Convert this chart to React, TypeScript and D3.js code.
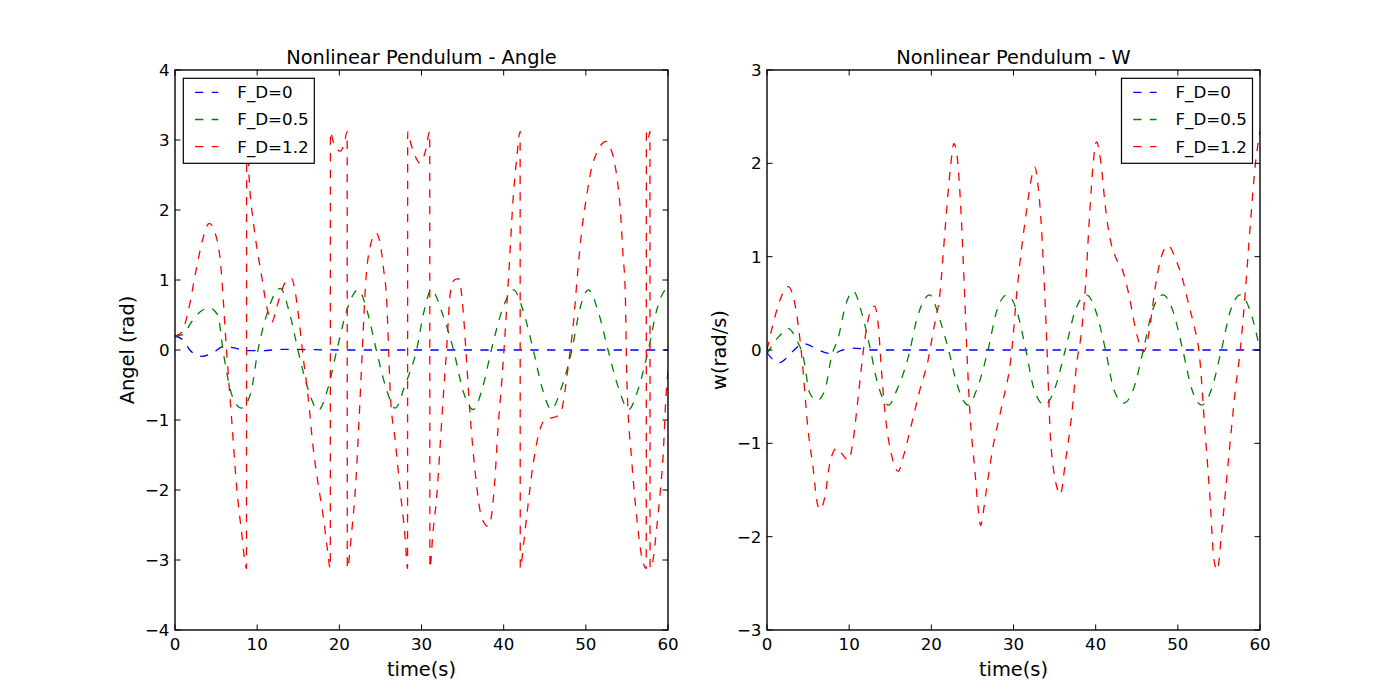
import React from "react";
import * as d3 from "d3";

// ---------- data ----------
const timeTicks = [0, 10, 20, 30, 40, 50, 60];
const angleTicks = [-4, -3, -2, -1, 0, 1, 2, 3, 4];
const wTicks = [-3, -2, -1, 0, 1, 2, 3];
const seriesNames = ["F_D=0", "F_D=0.5", "F_D=1.2"];
const seriesColors = ["#0000ff", "#008000", "#ff0000"];

// Angle, F_D = 0
const angT0 = [0, 1.0, 1.8, 3.25, 4.6, 5.9, 7.2, 8.7, 10.5, 13, 20, 30, 40, 50, 60];
const angV0 = [0.2, 0.14, 0.0, -0.09, -0.04, 0.05, 0.03, -0.01, -0.01, 0.01, 0, 0, 0, 0, 0];

// Angle, F_D = 0.5
const angT1 = [0, 1.0, 2.0, 3.0, 4.2, 5.2, 5.9, 7.0, 8.1, 9.2, 10.1, 11.2, 12.8, 14.0, 15.0, 16.3, 17.45, 18.6, 19.7, 21.0, 22.3, 23.4, 24.5, 25.7, 26.8, 28.0, 29.4, 30.3, 31.2, 32.6, 33.9, 35.1, 36.3, 37.4, 38.5, 39.9, 41.2, 42.4, 43.6, 44.7, 45.8, 47.0, 48.3, 49.3, 50.3, 51.5, 52.7, 54.0, 55.2, 56.4, 57.6, 58.7, 59.8, 60];
const angV1 = [0.2, 0.22, 0.4, 0.54, 0.6, 0.5, -0.05, -0.67, -0.83, -0.62, 0, 0.52, 0.88, 0.5, -0.02, -0.6, -0.86, -0.55, 0, 0.6, 0.86, 0.55, 0, -0.55, -0.83, -0.5, 0, 0.55, 0.86, 0.5, 0, -0.6, -0.85, -0.55, 0, 0.6, 0.86, 0.55, 0, -0.55, -0.85, -0.55, 0, 0.6, 0.86, 0.55, 0, -0.55, -0.85, -0.55, 0, 0.6, 0.86, 0.85];

// Angle, F_D = 1.2 (wrapped to [-pi, pi])
const angT2 = [0, 0.8, 1.6, 2.5, 3.3, 4.17, 4.8, 5.5, 6.3, 6.9, 7.5, 8.1, 8.7, 8.72, 9.1, 9.5, 10.55, 11.2, 11.8, 12.4, 13.0, 13.6, 14.2, 14.6, 15.0, 15.6, 16.2, 16.8, 17.4, 18.05, 18.5, 18.9, 18.92, 19.2, 19.6, 20.1, 20.6, 20.95, 20.97, 21.5, 22.0, 22.4, 22.8, 23.2, 23.7, 24.5, 25.0, 25.35, 25.8, 26.0, 26.2, 26.8, 27.4, 28.0, 28.3, 28.32, 28.7, 29.2, 29.8, 30.0, 30.5, 31.0, 31.02, 31.4, 31.85, 32.25, 32.65, 33.05, 33.5, 34.0, 34.5, 35.1, 35.4, 35.9, 36.5, 37.3, 38.1, 38.5, 38.9, 39.3, 39.8, 40.2, 40.6, 41.2, 41.6, 42.0, 42.02, 42.4, 42.8, 43.6, 44.4, 45.2, 45.8, 46.45, 47.05, 47.5, 47.9, 48.5, 49.0, 49.5, 50.1, 50.7, 51.3, 52.0, 52.5, 53.0, 53.35, 53.8, 54.2, 54.5, 54.8, 55.0, 55.6, 56.2, 56.8, 57.35, 57.37, 57.6, 57.8, 57.82, 58.1, 58.6, 59.0, 59.4, 59.75, 60];
const angV2 = [0.2, 0.25, 0.55, 1.1, 1.55, 1.81, 1.7, 1.29, -0.05, -1.0, -1.95, -2.6, -3.12, 3.12, 2.3, 1.86, 1.05, 0.6, 0.4, 0.62, 0.85, 1.0, 1.02, 0.85, 0.52, -0.1, -0.67, -1.38, -1.9, -2.38, -2.8, -3.12, 3.12, 3.0, 2.88, 2.84, 2.95, 3.12, -3.12, -2.6, -1.9, -1.0, 0.0, 0.95, 1.45, 1.67, 1.5, 1.19, 0.62, 0.0, -0.62, -1.29, -2.0, -2.67, -3.12, 3.12, 2.95, 2.78, 2.67, 2.69, 2.85, 3.12, -3.12, -2.6, -2.1, -1.4, -0.67, 0.0, 0.81, 1.0, 1.02, 0.52, 0.0, -0.9, -1.71, -2.38, -2.52, -2.38, -1.9, -1.14, -0.4, 0.29, 1.05, 2.24, 2.75, 3.12, -3.12, -2.8, -2.38, -1.62, -1.14, -0.98, -0.97, -0.95, -0.86, -0.55, -0.19, 0.4, 1.1, 1.7, 2.2, 2.6, 2.81, 2.95, 2.98, 2.88, 2.76, 2.45, 2.0, 1.4, 0.81, -0.45, -1.6, -2.4, -2.95, -3.12, 3.12, 3.03, 3.12, -3.12, -3.05, -2.57, -2.1, -1.52, -0.67, -0.3];

// W, F_D = 0
const wT0 = [0, 0.7, 1.4, 2.2, 3.3, 4.4, 5.4, 6.3, 7.9, 9.2, 10.5, 13, 20, 30, 40, 50, 60];
const wV0 = [-0.03, -0.1, -0.14, -0.1, 0.0, 0.07, 0.04, 0.0, -0.04, 0.0, 0.02, 0, 0, 0, 0, 0, 0];

// W, F_D = 0.5
const wT1 = [0, 1.4, 2.6, 3.6, 4.4, 5.2, 6.1, 7.05, 7.85, 8.7, 9.5, 10.5, 11.55, 12.5, 13.35, 14.8, 15.8, 17.3, 18.2, 19.8, 21.05, 22.1, 23.1, 24.5, 25.5, 26.9, 27.9, 29.2, 30.4, 31.5, 32.5, 33.8, 35.0, 36.3, 37.5, 38.9, 40.0, 41.2, 42.2, 43.4, 44.6, 45.8, 46.9, 48.2, 49.4, 50.6, 51.7, 52.9, 54.1, 55.3, 56.4, 57.6, 58.8, 60];
const wV1 = [-0.04, 0.14, 0.23, 0.11, -0.07, -0.46, -0.54, -0.43, -0.07, 0.14, 0.46, 0.63, 0.39, 0.04, -0.32, -0.59, -0.43, -0.04, 0.32, 0.59, 0.32, 0.0, -0.36, -0.59, -0.43, 0.0, 0.4, 0.59, 0.42, 0.0, -0.42, -0.59, -0.42, 0.0, 0.42, 0.59, 0.42, 0.0, -0.42, -0.57, -0.42, 0.0, 0.42, 0.59, 0.42, 0.0, -0.42, -0.59, -0.42, 0.0, 0.42, 0.59, 0.42, 0.0];

// W, F_D = 1.2
const wT2 = [0, 0.77, 1.6, 2.6, 3.1, 3.6, 4.2, 5.0, 5.65, 6.05, 6.45, 7.05, 7.65, 8.5, 9.1, 9.9, 10.5, 11.1, 11.9, 12.4, 13.1, 13.5, 14.0, 14.4, 15.2, 15.97, 16.6, 17.6, 18.6, 19.6, 20.25, 21.05, 21.7, 22.3, 22.75, 23.1, 23.4, 23.7, 24.0, 24.3, 24.7, 25.3, 25.7, 26.0, 26.3, 26.7, 27.5, 28.55, 29.8, 30.4, 31.0, 31.6, 32.2, 32.6, 33.0, 33.4, 33.8, 34.1, 34.45, 34.9, 35.25, 35.7, 36.3, 37.1, 37.7, 38.3, 38.7, 39.3, 39.7, 40.1, 40.7, 41.1, 41.5, 42.0, 42.4, 43.4, 44.0, 44.8, 45.6, 45.8, 46.2, 46.6, 47.3, 48.0, 48.8, 49.8, 50.6, 51.4, 52.0, 52.6, 53.3, 53.9, 54.4, 54.8, 55.35, 56.2, 57.0, 57.6, 58.2, 58.8, 59.4, 59.95, 60];
const wV2 = [0.0, 0.29, 0.54, 0.68, 0.6, 0.39, -0.04, -0.86, -1.29, -1.61, -1.71, -1.57, -1.21, -1.05, -1.11, -1.18, -0.96, -0.5, 0.11, 0.36, 0.47, 0.3, -0.3, -0.7, -1.14, -1.3, -1.14, -0.79, -0.43, -0.11, 0.21, 0.61, 1.32, 1.93, 2.21, 2.1, 1.8, 1.32, 0.7, 0.04, -0.68, -1.29, -1.7, -1.88, -1.75, -1.5, -1.04, -0.61, 0.0, 0.61, 1.1, 1.5, 1.85, 1.96, 1.75, 1.32, 0.61, -0.04, -0.86, -1.3, -1.46, -1.55, -1.21, -0.68, -0.14, 0.21, 0.61, 1.5, 2.0, 2.23, 1.96, 1.6, 1.32, 1.1, 1.0, 0.82, 0.61, 0.25, 0.0, -0.02, 0.05, 0.25, 0.7, 1.0, 1.12, 0.96, 0.75, 0.46, 0.25, -0.03, -0.86, -1.57, -2.25, -2.36, -1.93, -1.14, -0.43, 0.0, 0.61, 1.32, 1.96, 2.32, 2.35];

// ---------- drawing ----------
const FONT = "DejaVu Sans, Verdana, sans-serif";
const DASH = "8.33,8.33";

type Series = { t: number[]; v: number[] };

const fmt = (d: number) => (d < 0 ? "\u2212" + Math.abs(d) : String(d));

function Panel(props: {
  id: string;
  left: number;
  right: number;
  top: number;
  bottom: number;
  yTicks: number[];
  title: string;
  ylabel: string;
  series: Series[];
  legendX: number;
}) {
  const { id, left, right, top, bottom, yTicks, title, ylabel, series, legendX } = props;
  const x = d3.scaleLinear().domain([timeTicks[0], timeTicks[timeTicks.length - 1]]).range([left, right]);
  const y = d3.scaleLinear().domain([yTicks[0], yTicks[yTicks.length - 1]]).range([bottom, top]);
  const line = d3
    .line<[number, number]>()
    .x((d) => x(d[0]))
    .y((d) => y(d[1]))
    .curve(d3.curveMonotoneX);
  const tl = 5.5;
  const cx = (left + right) / 2;
  const cy = (top + bottom) / 2;
  const legW = 131;
  const legTop = 78.3;
  const legH = 85;
  return (
    <g>
      <defs>
        <clipPath id={id}>
          <rect x={left} y={top} width={right - left} height={bottom - top} />
        </clipPath>
      </defs>
      <g clipPath={`url(#${id})`}>
        {series.map((s, i) => (
          <path
            key={i}
            d={line(s.t.map((t, k) => [t, s.v[k]] as [number, number])) || ""}
            fill="none"
            stroke={seriesColors[i]}
            strokeWidth={1.3}
            strokeDasharray={DASH}
          />
        ))}
      </g>
      {/* ticks */}
      {timeTicks.map((t) => (
        <g key={"xt" + t}>
          <line x1={x(t)} x2={x(t)} y1={bottom} y2={bottom - tl} stroke="#000" strokeWidth={1} />
          <line x1={x(t)} x2={x(t)} y1={top} y2={top + tl} stroke="#000" strokeWidth={1} />
          <text x={x(t)} y={649.5} textAnchor="middle" fontSize={16.7} fontFamily={FONT}>
            {fmt(t)}
          </text>
        </g>
      ))}
      {yTicks.map((v) => (
        <g key={"yt" + v}>
          <line x1={left} x2={left + tl} y1={y(v)} y2={y(v)} stroke="#000" strokeWidth={1} />
          <line x1={right} x2={right - tl} y1={y(v)} y2={y(v)} stroke="#000" strokeWidth={1} />
          <text x={left - 5.5} y={y(v) + 6} textAnchor="end" fontSize={16.7} fontFamily={FONT}>
            {fmt(v)}
          </text>
        </g>
      ))}
      <rect x={left} y={top} width={right - left} height={bottom - top} fill="none" stroke="#000" strokeWidth={1.4} />
      {/* title & labels */}
      <text x={cx} y={63.5} textAnchor="middle" fontSize={19.4} fontFamily={FONT}>
        {title}
      </text>
      <text x={cx} y={675.5} textAnchor="middle" fontSize={19.4} fontFamily={FONT}>
        time(s)
      </text>
      <text
        transform={`translate(${left - 41},${cy}) rotate(-90)`}
        textAnchor="middle"
        fontSize={19.4}
        fontFamily={FONT}
      >
        {ylabel}
      </text>
      {/* legend */}
      <rect x={legendX} y={legTop} width={legW} height={legH} fill="#fff" stroke="#000" strokeWidth={1.2} />
      {seriesNames.map((name, i) => {
        const ly = 92.3 + i * 27.2;
        return (
          <g key={name}>
            <line
              x1={legendX + 11.7}
              x2={legendX + 35}
              y1={ly}
              y2={ly}
              stroke={seriesColors[i]}
              strokeWidth={1.3}
              strokeDasharray={DASH}
            />
            <text x={legendX + 54} y={ly + 5.8} fontSize={16.7} fontFamily={FONT}>
              {name}
            </text>
          </g>
        );
      })}
    </g>
  );
}

export default function App() {
  const angleSeries: Series[] = [
    { t: angT0, v: angV0 },
    { t: angT1, v: angV1 },
    { t: angT2, v: angV2 },
  ];
  const wSeries: Series[] = [
    { t: wT0, v: wV0 },
    { t: wT1, v: wV1 },
    { t: wT2, v: wV2 },
  ];
  return (
    <svg
      width={1400}
      height={700}
      style={{ position: "absolute", left: 0, top: 0, background: "#fff" }}
    >
      <rect x={0} y={0} width={1400} height={700} fill="#fff" />
      <Panel
        id="clipA"
        left={175}
        right={668}
        top={70}
        bottom={630}
        yTicks={angleTicks}
        title="Nonlinear Pendulum - Angle"
        ylabel="Angel (rad)"
        series={angleSeries}
        legendX={183.3}
      />
      <Panel
        id="clipW"
        left={767}
        right={1260}
        top={70}
        bottom={630}
        yTicks={wTicks}
        title="Nonlinear Pendulum - W"
        ylabel="w(rad/s)"
        series={wSeries}
        legendX={1121.5}
      />
    </svg>
  );
}
